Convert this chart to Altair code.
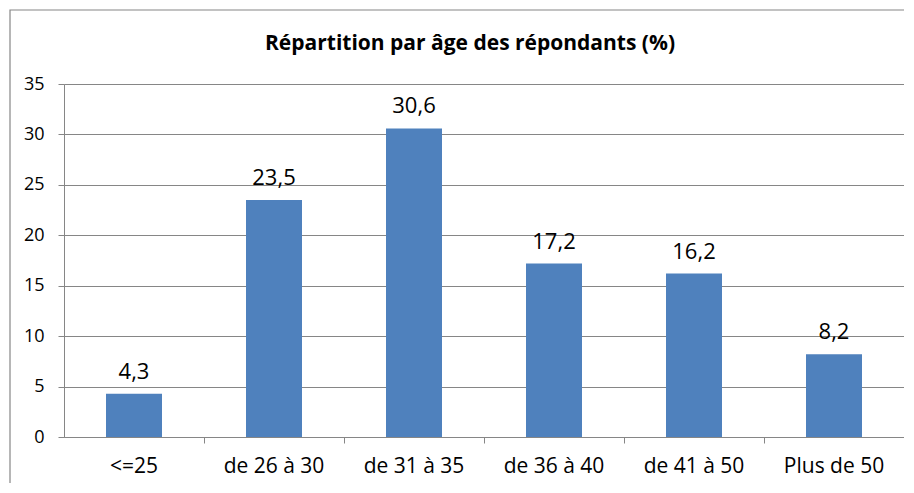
import altair as alt
import pandas as pd

categories = ["<=25", "de 26 à 30", "de 31 à 35", "de 36 à 40", "de 41 à 50", "Plus de 50"]
values = [4.3, 23.5, 30.6, 17.2, 16.2, 8.2]
y_ticks = [0, 5, 10, 15, 20, 25, 30, 35]
title_text = "Répartition par âge des répondants (%)"

df = pd.DataFrame({
    "cat": categories,
    "val": values,
    "lab": [f"{v:.1f}".replace(".", ",") for v in values],
})

FONT = "Open Sans"
GRID = "#868686"

x_enc = alt.X("cat:N", sort=categories,
              scale=alt.Scale(paddingInner=0, paddingOuter=0),
              axis=alt.Axis(title=None, labelAngle=0, ticks=False, domain=True, orient="bottom",
                            domainColor=GRID, labelFont=FONT, labelFontSize=21,
                            labelColor="black", labelPadding=18))
y_enc = alt.Y("val:Q", scale=alt.Scale(domain=[0, 35], nice=False),
              axis=alt.Axis(title=None, values=y_ticks, grid=True, gridColor=GRID,
                            domainColor=GRID, tickColor=GRID, tickSize=6,
                            labelFont=FONT, labelFontSize=18, labelColor="black",
                            labelPadding=14))

base = alt.Chart(df)

bars = base.mark_bar(color="#4F81BD", width={"band": 0.4}).encode(x=x_enc, y=y_enc)

labels = base.mark_text(font=FONT, fontSize=22, color="black", dy=-15,
                        baseline="alphabetic").encode(
    x=alt.X("cat:N", sort=categories, axis=None),
    y="val:Q", text="lab:N")

ticks_axis = base.mark_bar(opacity=0).encode(
    x=alt.X("cat:N", sort=categories,
            axis=alt.Axis(title=None, labels=False, domain=False, ticks=True, orient="bottom",
                          tickColor=GRID, tickSize=6, bandPosition=1)),
    y="val:Q")

border = alt.Chart(pd.DataFrame({"a": [0]})).mark_rect(
    fill="transparent", stroke=GRID, strokeWidth=1.2, clip=False).encode(
    x=alt.value(-54), x2=alt.value(900), y=alt.value(-74), y2=alt.value(500))

chart = alt.layer(border, bars, labels, ticks_axis).resolve_axis(x="independent").properties(
    width=840, height=353,
    padding={"left": 56, "top": 76, "right": 0, "bottom": 46},
    autosize=alt.AutoSizeParams(type="none"),
    title=alt.TitleParams(title_text, font=FONT, fontWeight="bold", fontSize=21,
                          anchor="middle", frame="group", dx=-14, offset=-66,
                          baseline="bottom", color="black"),
).configure_view(strokeWidth=0).configure(background="white")

chart.save("out.html", embed_options={"renderer": "svg", "actions": False})
